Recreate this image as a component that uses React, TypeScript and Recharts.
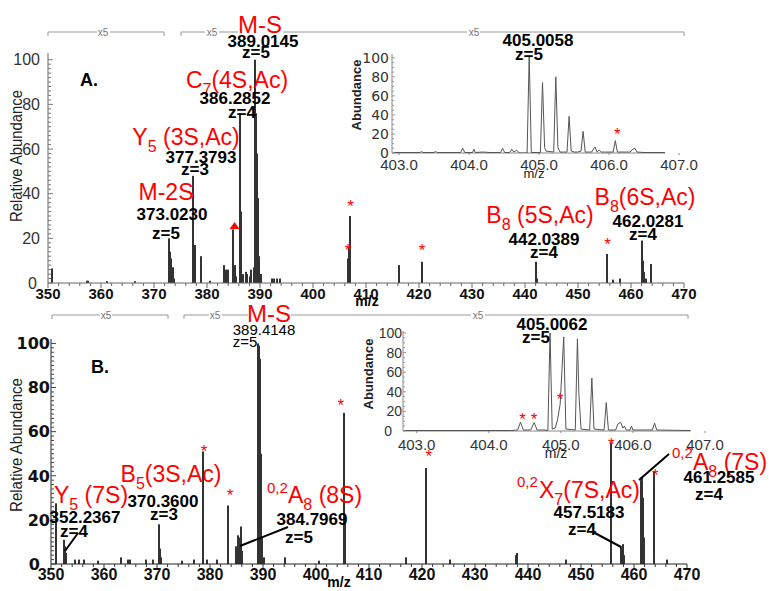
import React from "react";
import { ComposedChart, Bar, Line, Scatter, XAxis, YAxis, ReferenceLine } from "recharts";

const FONT = "'Liberation Sans', Arial, Helvetica, sans-serif";
const WIDE = "'DejaVu Sans', Verdana, sans-serif";
const RED = "#ff0000";
const W = 769;
const H = 591;

// panel A, full spectrum: [m/z, relative abundance]
const peaksA: [number, number][] = [
  [350.8, 6.5], [357.3, 1], [357.6, 1], [361.2, 0.8], [366.5, 0.8],
  [372.9, 20], [373.1, 14], [373.3, 11], [373.5, 7], [373.7, 2],
  [377.4, 48], [377.7, 17], [378.9, 12], [380.5, 1],
  [383.3, 8], [383.6, 6], [383.9, 6], [385.0, 24], [385.2, 8], [385.5, 3],
  [386.3, 76], [386.5, 32], [386.8, 4], [387.3, 5], [387.6, 4], [388.1, 3], [388.4, 6], [388.8, 7],
  [389.1, 100], [389.3, 76], [389.5, 58], [389.7, 38], [389.9, 12], [390.1, 4],
  [392.2, 2], [392.6, 2], [393.2, 2], [393.8, 2],
  [406.6, 11], [406.8, 16], [407.0, 30],
  [416.2, 8], [420.6, 9.5], [442.1, 9.5], [442.3, 2],
  [455.4, 13], [456.6, 1.5], [457.9, 2],
  [462.1, 19], [462.3, 10], [462.5, 5], [462.8, 2], [463.7, 8.5],
];
const starsA: [number, number][] = [[406.6, 16], [407.1, 36], [420.6, 16], [455.6, 19]];
const triangleA: [number, number][] = [[385.2, 25.5]];

// panel A inset, 403-407 profile
const profileA: [number, number][] = [
  [402.92, 0.5], [403.3, 0.5], [403.32, 1.5], [403.34, 0.5], [403.5, 0.5], [403.52, 1.5], [403.55, 0.5],
  [403.88, 0.5], [403.91, 5], [403.94, 0.5], [404.05, 0.5], [404.07, 4], [404.09, 0.5], [404.2, 1], [404.3, 0.5],
  [404.45, 0.5], [404.48, 5], [404.51, 0.5], [404.58, 0.5], [404.61, 4], [404.64, 1], [404.68, 3], [404.72, 0],
  [404.83, 0], [404.86, 102], [404.89, 0.5], [405.02, 0.5], [405.05, 74], [405.08, 6], [405.1, 2],
  [405.21, 1], [405.24, 80], [405.27, 6], [405.3, 1], [405.4, 1], [405.43, 38.5], [405.46, 2], [405.5, 1],
  [405.55, 1], [405.6, 2], [405.63, 22.7], [405.66, 1], [405.75, 1], [405.8, 6.3], [405.83, 1], [405.86, 3],
  [405.89, 1], [405.95, 1], [406.06, 1], [406.09, 13], [406.12, 1], [406.3, 1], [406.34, 4], [406.37, 5],
  [406.4, 1], [406.5, 0.5], [406.8, 0.5],
];
const insetStarsA: [number, number][] = [[406.12, 23.5]];

// panel B, full spectrum
const peaksB: [number, number][] = [
  [350.9, 27.5], [352.4, 11], [352.7, 8], [352.9, 5], [354.6, 2], [355.2, 2], [356.3, 2], [358.8, 1.5],
  [363.2, 3], [364.5, 2], [365.0, 2], [368.0, 2], [369.2, 2], [370.3, 18], [370.5, 7], [370.8, 3],
  [374.8, 1.5], [376.9, 2], [378.6, 51], [379.5, 2], [381.3, 2], [383.4, 26.5],
  [385.0, 8], [385.2, 13], [385.4, 12], [385.6, 9], [385.8, 17], [386.0, 6],
  [389.0, 100], [389.2, 99], [389.4, 93], [389.6, 50], [389.8, 12], [390.1, 3],
  [394.2, 3], [400.5, 1.5], [405.2, 68.5], [405.4, 20], [416.9, 3], [420.8, 43.5], [425.3, 2],
  [437.7, 4], [437.9, 5], [447.1, 2], [455.6, 55], [457.6, 8], [457.9, 9], [458.2, 4],
  [461.3, 38], [461.5, 39.5], [461.7, 30], [461.9, 12], [463.8, 42], [466.2, 2],
];
const starsB: [number, number][] = [[378.9, 52.5], [383.8, 32.6], [404.7, 73.3], [421.3, 50.2], [455.7, 55.7], [464.0, 41.6]];

// panel B inset
const profileB: [number, number][] = [
  [402.82, 0.5], [404.3, 0.5], [404.4, 1], [404.44, 9], [404.48, 1], [404.58, 1], [404.63, 8.5], [404.67, 1],
  [404.78, 1], [404.82, 0.5], [404.85, 100], [404.88, 2], [404.92, 3], [404.95, 10], [404.99, 27], [405.04, 96],
  [405.07, 2], [405.2, 1], [405.23, 94], [405.25, 38], [405.28, 2], [405.4, 1], [405.43, 54], [405.46, 2],
  [405.6, 1], [405.63, 29], [405.66, 1], [405.76, 1], [405.79, 7], [405.83, 9], [405.86, 3], [405.88, 5],
  [405.91, 1], [405.96, 1], [405.98, 5], [406.0, 1], [406.27, 1], [406.3, 8], [406.33, 1], [406.8, 0.5],
];
const insetStarsB: [number, number][] = [[404.47, 15.3], [404.63, 15.3], [404.99, 35.7]];

const mainLabels = [350, 360, 370, 380, 390, 400, 410, 420, 430, 440, 450, 460, 470];
const insetLabels = [403, 404, 405, 406, 407];
const abundanceLabels = [0, 20, 40, 60, 80, 100];

const rows = (pts: [number, number][]) => pts.map(([mz, v]) => ({ mz, v }));
const steps = (a: number, b: number, s: number) => {
  const out: number[] = [];
  for (let v = a; v <= b + 1e-9; v += s) out.push(Math.round(v * 100) / 100);
  return out;
};

type TickOpts = {
  labels: number[]; len: number; minorLen: number; gap: number; size: number;
  weight?: any; family?: string; color?: string; line?: string; fmt?: (v: number) => string; zeroGap?: number;
};

const xTick = (o: TickOpts) => (props: any) => {
  const { x, y, payload } = props;
  const v = payload.value;
  const major = o.labels.includes(v);
  return (
    <g>
      <line x1={x} x2={x} y1={y} y2={y + (major ? o.len : o.minorLen)} stroke={o.line} />
      {major && (
        <text x={x} y={y + o.gap} textAnchor="middle" fontSize={o.size} fontWeight={o.weight}
          fontFamily={o.family || FONT} fill={o.color}>{o.fmt ? o.fmt(v) : v}</text>
      )}
    </g>
  );
};

const yTick = (o: TickOpts) => (props: any) => {
  const { x, y, payload } = props;
  const v = payload.value;
  const major = o.labels.includes(v);
  const gap = v === 0 && o.zeroGap != null ? o.zeroGap : o.gap;
  return (
    <g>
      <line x1={x} x2={x + (major ? o.len : o.minorLen)} y1={y} y2={y} stroke={o.line} />
      {major && (
        <text x={x - gap} y={y} dy="0.36em" textAnchor="end" fontSize={o.size} fontWeight={o.weight}
          fontFamily={o.family || FONT} fill={o.color}>{v}</text>
      )}
    </g>
  );
};

// crisp 2px stick for each centroid peak
const Stick = (p: any) => {
  if (!p.height) return <g />;
  const cx = Math.round(p.x + p.width / 2);
  return <rect x={cx - 1} y={p.y} width={2} height={p.height} fill="#333" />;
};
const Star = (p: any) => (
  <text x={p.cx} y={p.cy + 9} textAnchor="middle" fontSize={17} fill={RED} fontFamily={FONT}>*</text>
);
const Tri = (p: any) => (
  <path d={`M${p.cx},${p.cy - 4} L${p.cx + 5},${p.cy + 3} L${p.cx - 5},${p.cy + 3} Z`} fill={RED} />
);

const layer: React.CSSProperties = { position: "absolute", left: 0, top: 0 };

function PanelA() {
  return (
    <div style={layer}>
      <ComposedChart width={W} height={H} data={rows(peaksA)} margin={{ top: 53, right: 85, bottom: 288, left: 0 }}>
        <XAxis type="number" dataKey="mz" domain={[350, 470]} allowDataOverflow ticks={steps(350, 470, 2)} interval={0}
          height={20} tickSize={0} tickMargin={0} tickLine={false} axisLine={{ stroke: "#666" }}
          tick={xTick({ labels: mainLabels, len: 5, minorLen: 3, gap: 16, size: 15, weight: "bold", color: "#111", line: "#666" })} />
        <YAxis type="number" domain={[0, 103]} allowDataOverflow ticks={steps(0, 100, 2)} interval={0}
          width={48} tickSize={0} tickMargin={0} tickLine={false} axisLine={{ stroke: "#666" }}
          tick={yTick({ labels: abundanceLabels, len: 5, minorLen: 3, gap: 8, zeroGap: 11, size: 16, color: "#333", line: "#777" })} />
        <Bar dataKey="v" fill="#333" barSize={2} shape={Stick} isAnimationActive={false} />
        <Scatter data={rows(starsA)} dataKey="v" shape={Star} isAnimationActive={false} />
        <Scatter data={rows(triangleA)} dataKey="v" shape={Tri} isAnimationActive={false} />
      </ComposedChart>
    </div>
  );
}

function InsetA() {
  return (
    <div style={layer}>
      <ComposedChart width={W} height={H} data={rows(profileA)} margin={{ top: 54, right: 90, bottom: 418, left: 352 }}>
        <XAxis type="number" dataKey="mz" domain={[402.9, 407]} allowDataOverflow ticks={insetLabels} interval={0}
          height={20} tickSize={0} tickMargin={0} tickLine={false} axisLine={false}
          tick={xTick({ labels: insetLabels, len: 2, minorLen: 0, gap: 16.5, size: 15, color: "#333", line: "#888", fmt: (v) => v.toFixed(1) })} />
        <YAxis type="number" domain={[0, 104]} allowDataOverflow ticks={steps(0, 100, 5)} interval={0}
          width={40} tickSize={0} tickMargin={0} tickLine={false} axisLine={{ stroke: "#888" }}
          tick={yTick({ labels: abundanceLabels, len: 3, minorLen: 2, gap: 3, size: 14, family: WIDE, color: "#333", line: "#999" })} />
        <ReferenceLine segment={[{ x: 402.9, y: 0 }, { x: 406.8, y: 0 }]} stroke="#888" ifOverflow="visible" />
        <Line dataKey="v" type="linear" stroke="#555" strokeWidth={1} dot={false} isAnimationActive={false} />
        <Scatter data={rows(insetStarsA)} dataKey="v" shape={Star} isAnimationActive={false} />
      </ComposedChart>
    </div>
  );
}

function PanelB() {
  return (
    <div style={layer}>
      <ComposedChart width={W} height={H} data={rows(peaksB)} margin={{ top: 339, right: 82, bottom: 7, left: 0 }}>
        <XAxis type="number" dataKey="mz" domain={[350, 470]} allowDataOverflow ticks={steps(350, 470, 2)} interval={0}
          height={20} tickSize={0} tickMargin={0} tickLine={false} axisLine={{ stroke: "#222" }}
          tick={xTick({ labels: mainLabels, len: 5, minorLen: 3, gap: 16, size: 16, weight: "bold", color: "#111", line: "#333" })} />
        <YAxis type="number" domain={[0, 102]} allowDataOverflow ticks={steps(0, 100, 2)} interval={0}
          width={51} tickSize={0} tickMargin={0} tickLine={false} axisLine={{ stroke: "#222" }}
          tick={yTick({ labels: abundanceLabels, len: 5, minorLen: 3, gap: 1, zeroGap: 11, size: 16, weight: "bold", family: WIDE, color: "#111", line: "#444" })} />
        <Bar dataKey="v" fill="#333" barSize={2} shape={Stick} isAnimationActive={false} />
        <Scatter data={rows(starsB)} dataKey="v" shape={Star} isAnimationActive={false} />
      </ComposedChart>
    </div>
  );
}

function InsetB() {
  return (
    <div style={layer}>
      <ComposedChart width={W} height={H} data={rows(profileB)} margin={{ top: 331, right: 64, bottom: 140, left: 363 }}>
        <XAxis type="number" dataKey="mz" domain={[402.81, 407]} allowDataOverflow ticks={insetLabels} interval={0}
          height={20} tickSize={0} tickMargin={0} tickLine={false} axisLine={false}
          tick={xTick({ labels: insetLabels, len: 2, minorLen: 0, gap: 19, size: 15, color: "#333", line: "#888", fmt: (v) => v.toFixed(1) })} />
        <YAxis type="number" domain={[0, 102]} allowDataOverflow ticks={steps(0, 100, 5)} interval={0}
          width={40} tickSize={0} tickMargin={0} tickLine={false} axisLine={{ stroke: "#888" }}
          tick={yTick({ labels: abundanceLabels, len: 3, minorLen: 2, gap: 1, zeroGap: 11, size: 14, color: "#333", line: "#999" })} />
        <ReferenceLine segment={[{ x: 402.81, y: 0 }, { x: 406.8, y: 0 }]} stroke="#888" ifOverflow="visible" />
        <Line dataKey="v" type="linear" stroke="#555" strokeWidth={1} dot={false} isAnimationActive={false} />
        <Scatter data={rows(insetStarsB)} dataKey="v" shape={Star} isAnimationActive={false} />
      </ComposedChart>
    </div>
  );
}

const Red = ({ x, y, pre, sub, post, anchor = "middle", size = 23 }: any) => (
  <text x={x} y={y} textAnchor={anchor} fill={RED} fontSize={size} fontFamily={FONT}>
    {pre}
    {sub && <tspan dy={7} fontSize={16}>{sub}</tspan>}
    {post && <tspan dy={sub ? -7 : 0}>{post}</tspan>}
  </text>
);
const Sup = ({ x, y, t }: any) => (
  <text x={x} y={y} fill={RED} fontSize={15} fontFamily={FONT}>{t}</text>
);
const Val = ({ x, y, t, bold = true, size = 17 }: any) => (
  <text x={x} y={y} textAnchor="middle" fontSize={size} fontWeight={bold ? "bold" : "normal"} fontFamily={FONT} fill="#000">{t}</text>
);
const Bracket = ({ y, segs, ends, marks }: any) => (
  <g stroke="#999" strokeWidth={1} fill="none">
    {segs.map((s: number[], i: number) => <line key={i} x1={s[0]} x2={s[1]} y1={y} y2={y} />)}
    {ends.map((x: number, i: number) => <line key={"e" + i} x1={x} x2={x} y1={y} y2={y + 4} />)}
    {marks.map((x: number, i: number) => (
      <text key={"m" + i} x={x} y={y + 4} textAnchor="middle" fontSize={10} fontFamily={FONT} fill="#777" stroke="none">x5</text>
    ))}
  </g>
);
const VLabel = ({ x, y, t, size, bold, len }: any) => (
  <text x={x} y={y} transform={`rotate(-90 ${x} ${y})`} textAnchor="middle" dominantBaseline="middle"
    fontSize={size} fontWeight={bold ? "bold" : "normal"} fontFamily={FONT} fill="#222"
    textLength={len} lengthAdjust="spacingAndGlyphs">{t}</text>
);

function Annotations() {
  return (
    <svg width={W} height={H} style={{ ...layer, pointerEvents: "none" }}>
      {/* panel A */}
      <Bracket y={32} segs={[[48, 97], [110, 164], [181, 205], [219, 238], [283, 467], [480, 684]]} ends={[48, 164, 181, 684]} marks={[103, 212, 474]} />
      <VLabel x={18} y={156} t="Relative Abundance" size={16} len={132} />
      <VLabel x={358} y={95} t="Abundance" size={13} bold />
      <text x={80} y={86} fontSize={18} fontWeight="bold" fontFamily={FONT}>A.</text>
      <Red x={260} y={33} pre="M-S" size={24} />
      <Val x={263} y={47} t="389.0145" />
      <Val x={256} y={58} t="z=5" />
      <Red x={237} y={88} pre="C" sub="7" post="(4S,Ac)" />
      <Val x={235} y={104} t="386.2852" />
      <Val x={242} y={118} t="z=4" />
      <Red x={186} y={145} pre="Y" sub="5" post=" (3S,Ac)" />
      <Val x={201} y={163} t="377.3793" />
      <Val x={195} y={175} t="z=3" />
      <Red x={166} y={200} pre="M-2S" />
      <Val x={172} y={220} t="373.0230" />
      <Val x={166} y={239} t="z=5" />
      <Val x={538} y={46} t="405.0058" />
      <Val x={529} y={60} t="z=5" />
      <Red x={540} y={223} pre="B" sub="8" post=" (5S,Ac)" />
      <Val x={544} y={245} t="442.0389" />
      <Val x={544} y={258} t="z=4" />
      <Red x={645} y={205} pre="B" sub="8" post="(6S,Ac)" />
      <Val x={648} y={227} t="462.0281" />
      <Val x={643} y={240} t="z=4" />
      <text x={367} y={306} textAnchor="middle" fontSize={14} fontWeight="bold" fontFamily={FONT}>m/z</text>
      <text x={534} y={178} textAnchor="middle" fontSize={13} fontFamily={FONT} fill="#222">m/z</text>

      {/* panel B */}
      <Bracket y={315} segs={[[52, 100], [112, 168], [184, 209], [222, 248], [291, 471], [485, 688]]} ends={[52, 168, 184, 688]} marks={[106, 215, 478]} />
      <VLabel x={18} y={445} t="Relative Abundance" size={16} len={134} />
      <VLabel x={370} y={374} t="Abundance" size={13} bold />
      <text x={91} y={373} fontSize={18} fontWeight="bold" fontFamily={FONT}>B.</text>
      <Red x={269} y={322} pre="M-S" size={24} />
      <Val x={264} y={335} t="389.4148" bold={false} size={15} />
      <Val x={245} y={347} t="z=5" bold={false} size={15} />
      <Red x={171} y={482} pre="B" sub="5" post="(3S,Ac)" />
      <Red x={91} y={503} pre="Y" sub="5" post=" (7S)" />
      <Val x={163} y={507} t="370.3600" />
      <Val x={164} y={520} t="z=3" />
      <Val x={85} y={523} t="352.2367" />
      <Val x={74} y={537} t="z=4" />
      <Sup x={267} y={493} t="0,2" />
      <Red x={288} y={503} pre="A" sub="8" post=" (8S)" anchor="start" />
      <Val x={312} y={525} t="384.7969" />
      <Val x={299} y={543} t="z=5" />
      <Val x={552} y={330} t="405.0062" />
      <Val x={536} y={343} t="z=5" />
      <Sup x={672} y={458} t="0,2" />
      <Red x={693} y={470} pre="A" sub="8" post=" (7S)" anchor="start" />
      <Val x={719} y={483} t="461.2585" />
      <Val x={709} y={500} t="z=4" />
      <Sup x={517} y={487} t="0,2" />
      <Red x={539} y={498} pre="X" sub="7" post="(7S,Ac)" anchor="start" />
      <Val x={589} y={518} t="457.5183" />
      <Val x={582} y={535} t="z=4" />
      <g stroke="#000" strokeWidth={2}>
        <line x1={65} y1={551} x2={78} y2={533} />
        <line x1={240} y1={546} x2={288} y2={527} />
        <line x1={593} y1={532} x2={621} y2={547} />
        <line x1={639} y1={480} x2={669} y2={454} />
      </g>
      <text x={339} y={587} textAnchor="middle" fontSize={14} fontWeight="bold" fontFamily={FONT}>m/z</text>
      <text x={556} y={458} textAnchor="middle" fontSize={14} fontFamily={FONT} fill="#222">m/z</text>
    </svg>
  );
}

export default function App() {
  return (
    <div style={{ position: "absolute", left: 0, top: 0, width: W, height: H, background: "#fff", overflow: "hidden" }}>
      <PanelA />
      <PanelB />
      <InsetA />
      <InsetB />
      <Annotations />
    </div>
  );
}
